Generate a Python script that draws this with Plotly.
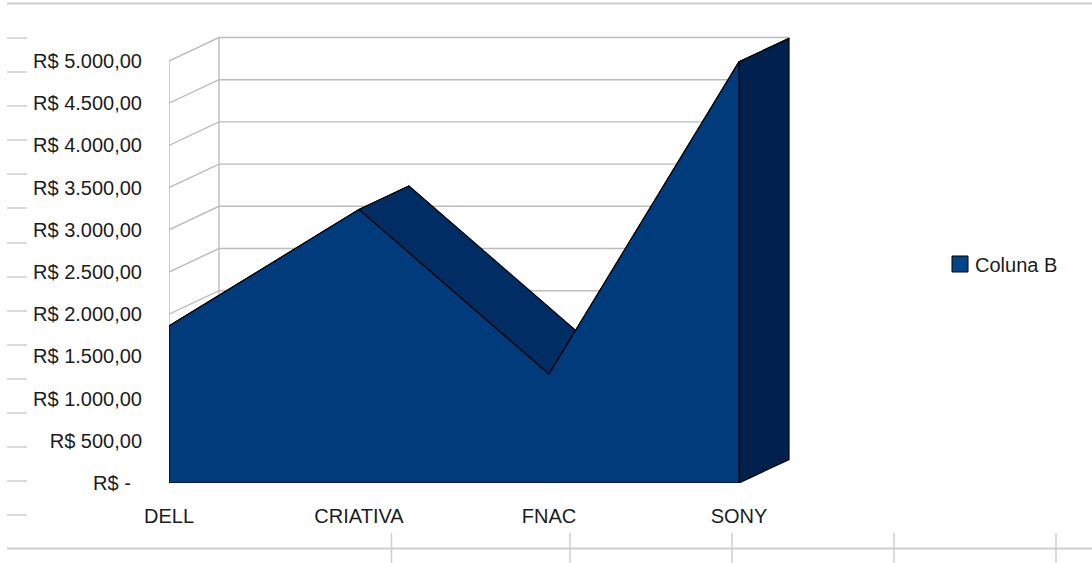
import plotly.graph_objects as go

# ---- data ----
categories = ["DELL", "CRIATIVA", "FNAC", "SONY"]
coluna_b = [1860, 3240, 1290, 4990]
y_ticks = [0, 500, 1000, 1500, 2000, 2500, 3000, 3500, 4000, 4500, 5000]
y_tick_labels = ["R$ -\u00a0\u00a0", "R$ 500,00", "R$ 1.000,00", "R$ 1.500,00", "R$ 2.000,00",
                 "R$ 2.500,00", "R$ 3.000,00", "R$ 3.500,00", "R$ 4.000,00", "R$ 4.500,00", "R$ 5.000,00"]
series_name = "Coluna B"

# ---- page geometry (pixels) ----
W, H = 1092, 563
L, R, T, B = 169, 795, 30, 483
CAT_PX = 190.0
VAL_PX = 422 / 5000
DEPTH_X_PX, DEPTH_Y_PX = 50, 23.5
dx = DEPTH_X_PX / CAT_PX
dy = DEPTH_Y_PX / VAL_PX
idx = list(range(len(categories)))

FRONT, SLOPE, SIDE = "#003b7c", "#002d63", "#00214d"
GRID = "#bcbcbc"
TEXT = "#1c1c1c"

fig = go.Figure()


def grid(xs, ys):
    fig.add_trace(go.Scatter(x=xs, y=ys, mode="lines", line=dict(color=GRID, width=1.4),
                             hoverinfo="skip", showlegend=False, cliponaxis=False))


# back wall and side wall grid, from the tick values
top = y_ticks[-1]
grid([0, 0], [0, top])
grid([dx, dx], [dy, top + dy])
for t in y_ticks:
    grid([0, dx, idx[-1] + dx], [t, t + dy, t + dy])


def face(xs, ys, color):
    fig.add_trace(go.Scatter(x=xs, y=ys, mode="lines", fill="toself", fillcolor=color,
                             line=dict(color="#000000", width=1.2), hoverinfo="skip",
                             showlegend=False, cliponaxis=False))


# depth faces of the surface, one per segment
for i in idx[:-1]:
    a, b = i, i + 1
    face([a, a + dx, b + dx, b, a],
         [coluna_b[a], coluna_b[a] + dy, coluna_b[b] + dy, coluna_b[b], coluna_b[a]], SLOPE)

# right end cap
e = idx[-1]
face([e, e + dx, e + dx, e, e], [0, dy, coluna_b[e] + dy, coluna_b[e], 0], SIDE)

# front surface
face(idx + [e, 0, 0], coluna_b + [0, 0, coluna_b[0]], FRONT)

# legend entry
fig.add_trace(go.Scatter(x=[None], y=[None], mode="markers", name=series_name,
                         marker=dict(symbol="square", size=17, color="#004586",
                                     line=dict(color="#000000", width=1))))


def px(x):
    return (x - L) / (R - L)


def py(y):
    return (B - y) / (B - T)


# surrounding spreadsheet cell lines
shapes = []


def sheet_line(x0, y0, x1, y1, width=1.5):
    shapes.append(dict(type="line", xref="paper", yref="paper", x0=px(x0), y0=py(y0), x1=px(x1), y1=py(y1),
                       line=dict(color="#cfcfcf", width=width), layer="below"))


sheet_line(7, 3.5, W, 3.5, 2)
sheet_line(7, 548.5, W, 548.5, 2)
for vx in [391.5, 570, 732, 894, 1056]:
    sheet_line(vx, 533, vx, H)
for hy in [38, 72, 106, 140, 174, 208, 243, 277, 311, 345, 379, 413, 447, 481, 515]:
    sheet_line(7, hy, 27, hy)

fig.update_layout(
    width=W, height=H,
    autosize=False,
    margin=dict(l=L, r=W - R, t=T, b=H - B, pad=0),
    paper_bgcolor="#ffffff",
    plot_bgcolor="rgba(0,0,0,0)",
    shapes=shapes,
    font=dict(family="Liberation Sans, Arial, sans-serif", size=20, color=TEXT),
    legend=dict(x=px(940), y=py(264), xanchor="left", yanchor="middle", xref="paper", yref="paper",
                bgcolor="rgba(0,0,0,0)", borderwidth=0, font=dict(size=20, color=TEXT)),
    xaxis=dict(range=[0, (R - L) / CAT_PX], tickmode="array", tickvals=idx, ticktext=categories,
               ticks="outside", ticklen=15, tickcolor="rgba(0,0,0,0)", showgrid=False, zeroline=False,
               showline=False, fixedrange=True),
    yaxis=dict(range=[0, (B - T) / VAL_PX], tickmode="array", tickvals=y_ticks, ticktext=y_tick_labels,
               ticks="outside", ticklen=22, tickcolor="rgba(0,0,0,0)", showgrid=False, zeroline=False,
               showline=False, fixedrange=True),
)

# remove the page margin and pull the legend label next to its swatch, as in the reference
post = """
document.documentElement.style.margin = '0';
document.body.style.margin = '0';
document.body.style.overflow = 'hidden';
var t = document.querySelector('.legendtext');
if (t) { t.setAttribute('x', 35); }
"""
fig.write_html("out.html", post_script=post, config={"displayModeBar": False})
